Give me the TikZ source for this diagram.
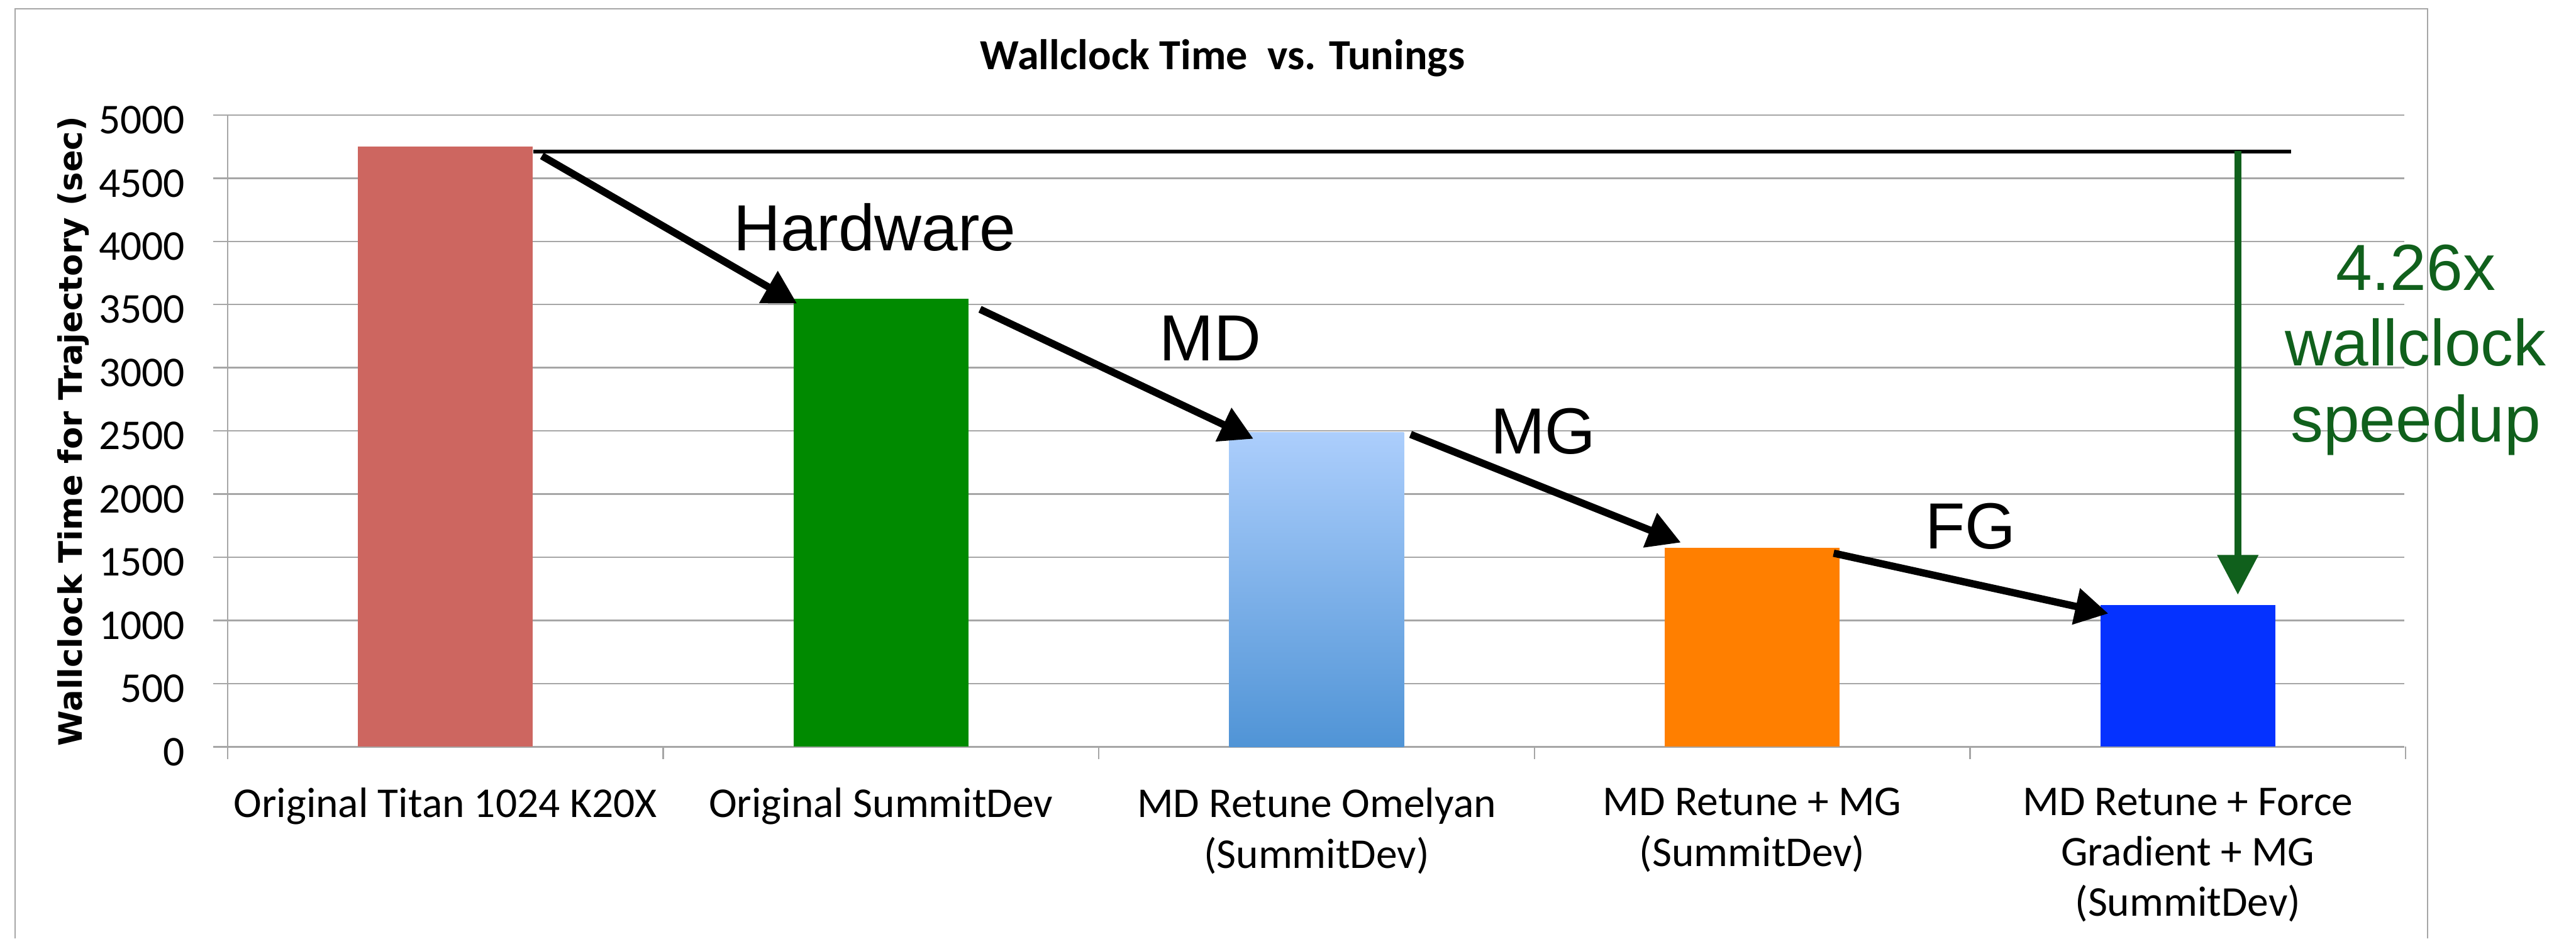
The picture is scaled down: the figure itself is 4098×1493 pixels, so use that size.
\documentclass[tikz,border=0pt]{standalone}
\usepackage{fontspec}
\setmainfont{Carlito}
\newfontfamily\arialfont{Liberation Sans}
\newfontfamily\verdfont{DejaVu Sans}
\usetikzlibrary{arrows.meta}
\definecolor{gridgray}{RGB}{166,166,166}
\definecolor{titanred}{RGB}{205,102,96}
\definecolor{summitgreen}{RGB}{0,138,0}
\definecolor{omeltop}{RGB}{172,206,252}
\definecolor{omelbot}{RGB}{80,148,214}
\definecolor{mgorange}{RGB}{255,127,0}
\definecolor{fgblue}{RGB}{5,50,255}
\definecolor{speedgreen}{RGB}{16,96,28}

\begin{document}
\begin{tikzpicture}[x=0.01cm, y=-0.01cm,
  grid/.style={draw=gridgray, line width=0.7pt},
  ticklbl/.style={anchor=east, inner sep=0pt, font=\fontsize{19.2}{22}\selectfont},
  catlbl/.style={anchor=north, inner sep=0pt, align=center, font=\fontsize{19.2}{22.8}\selectfont},
  steplbl/.style={anchor=base west, inner sep=0pt, font=\arialfont\fontsize{29.5}{34}\selectfont},
  speedlbl/.style={anchor=base, inner sep=0pt, text=speedgreen, font=\arialfont\fontsize{29.5}{34}\selectfont},
  tuning/.style={draw=black, line width=3.3pt, -{Triangle[length=15pt, width=16pt]}},
  redbar/.style={fill=titanred},
  greenbar/.style={fill=summitgreen},
  omelbar/.style={top color=omeltop, bottom color=omelbot},
  orangebar/.style={fill=mgorange},
  fgbar/.style={fill=fgblue}]

\useasboundingbox (0,0) rectangle (4098,1493);

% chart frame
\draw[grid] (24,1493) |- (3862,14) -- (3862,1493);

\node[anchor=base, inner sep=0pt, font=\bfseries\fontsize{19.4}{23}\selectfont] (title) at (1945,111) {Wallclock Time\ \ vs. Tunings};

% grid and axis
\foreach \t in {0,500,...,5000} {
  \draw[grid] (339,{1188-0.201*\t}) -- (3825,{1188-0.201*\t});
  \node[ticklbl] (tick\t) at (295,{1196-0.201*\t}) {\t};
}
\draw[grid] (362,183) -- (362,1208);
\foreach \k in {1,...,5}
  \draw[grid] ({362+693*\k},1188) -- ({362+693*\k},1208);

\node[rotate=90, anchor=base, inner sep=0pt, font=\verdfont\bfseries\fontsize{14.6}{17}\selectfont] (ytitle) at (131,686) {Wallclock Time for Trajectory (sec)};

% bars
\foreach \k/\v/\sty in {0/4750/redbar, 1/3545/greenbar, 2/2490/omelbar, 3/1575/orangebar, 4/1120/fgbar}
  \path[\sty] ({569.5+693*\k},1188) rectangle ({847.5+693*\k},{1188-0.201*\v});

\node[catlbl] (cat1) at (708.5,1253) {Original Titan 1024 K20X};
\node[catlbl] (cat2) at (1401.5,1253) {Original SummitDev};
\node[catlbl] (cat3) at (2094.5,1253) {MD Retune Omelyan\\(SummitDev)};
\node[catlbl] (cat4) at (2787.5,1253) {MD Retune + MG\\(SummitDev)};
\node[catlbl] (cat5) at (3480.5,1253) {MD Retune + Force\\Gradient + MG\\(SummitDev)};

% tuning steps
\coordinate (hw_s) at (862,248);  \coordinate (hw_e) at (1268,483);
\coordinate (md_s) at (1559,492); \coordinate (md_e) at (1994,698);
\coordinate (mg_s) at (2244,691); \coordinate (mg_e) at (2674,863);
\coordinate (fg_s) at (2917,880); \coordinate (fg_e) at (3354,976);
\coordinate (top_s) at (848,241); \coordinate (top_e) at (3645,241);
\coordinate (sp_s) at (3560,240); \coordinate (sp_e) at (3560,946);

\draw[line width=1.6pt] (top_s) -- (top_e);
\draw[tuning] (hw_s) -- (hw_e);
\draw[tuning] (md_s) -- (md_e);
\draw[tuning] (mg_s) -- (mg_e);
\draw[tuning] (fg_s) -- (fg_e);
\draw[speedgreen, line width=3pt, -{Triangle[length=18pt, width=18pt]}] (sp_s) -- (sp_e);

\node[steplbl] (hw) at (1166,399) {Hardware};
\node[steplbl] (md) at (1844,574) {MD};
\node[steplbl] (mg) at (2371,722) {MG};
\node[steplbl] (fg) at (3062,873) {FG};

\node[speedlbl] (sp1) at (3843,462) {4.26x};
\node[speedlbl] (sp2) at (3843,582) {wallclock};
\node[speedlbl] (sp3) at (3843,703) {speedup};
\end{tikzpicture}
\end{document}
